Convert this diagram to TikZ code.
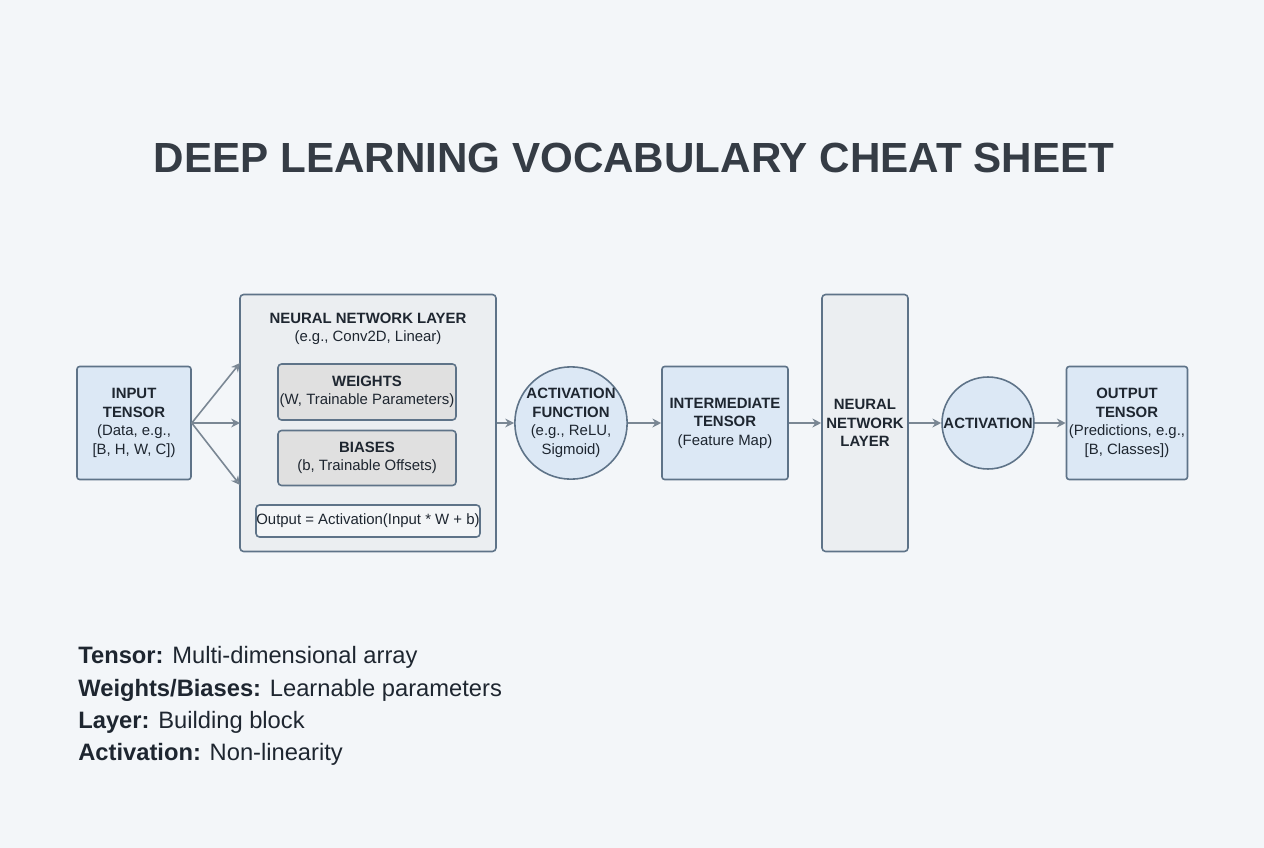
\documentclass[tikz,border=0pt]{standalone}
\usepackage{fontspec}
\setmainfont{Liberation Sans}
\usetikzlibrary{arrows.meta}
\definecolor{bgc}{HTML}{F3F6F9}
\definecolor{bluefill}{HTML}{DCE8F5}
\definecolor{grayfill}{HTML}{EBEEF1}
\definecolor{edgec}{HTML}{5E7388}
\definecolor{textc}{HTML}{1E2630}
\definecolor{arrowc}{HTML}{7A8794}
\tikzset{
  bluebox/.style={draw=edgec, fill=bluefill, line width=0.9pt, rounded corners=1.5pt, align=center, font=\fontsize{8.5}{10.5}\selectfont, text=textc, inner sep=0pt},
  graybox/.style={draw=edgec, fill=grayfill, line width=0.9pt, rounded corners=2pt, align=center, font=\fontsize{8.5}{10.5}\selectfont, text=textc, inner sep=0pt},
  actcircle/.style={circle, draw=edgec, fill=bluefill, line width=0.9pt, align=center, font=\fontsize{8.5}{10.5}\selectfont, text=textc, inner sep=0pt, minimum size=1.84cm},
  flow/.style={-{Stealth[length=5pt,width=5pt,open]}, draw=arrowc, line width=0.9pt},
  legend/.style={anchor=west, font=\fontsize{13.5}{16}\selectfont, text=textc, inner sep=0pt}
}
\begin{document}
\begin{tikzpicture}[x=0.02cm, y=-0.02cm]
\fill[bgc] (0,0) rectangle (1264,848);
\useasboundingbox (0,0) rectangle (1264,848);
% title
\node (title) at (634,158) [font=\fontsize{24}{28}\selectfont\bfseries, text=textc!90] {DEEP LEARNING VOCABULARY CHEAT SHEET};
% main flow
\node (input) at (134,423) [bluebox, minimum width=2.28cm, minimum height=2.26cm] {\textbf{INPUT}\\\textbf{TENSOR}\\(Data, e.g.,\\{[B, H, W, C])}};
\node (layer) at (368,423) [graybox, minimum width=5.12cm, minimum height=5.14cm] {};
\node (layertitle) at (368,329) [align=center, font=\fontsize{8.5}{10.5}\selectfont, text=textc] {\textbf{NEURAL NETWORK LAYER}\\(e.g., Conv2D, Linear)};
\node (weights) at (367,392) [graybox, fill=black!12, minimum width=3.56cm, minimum height=1.12cm] {\textbf{WEIGHTS}\\(W, Trainable Parameters)};
\node (biases) at (367,458) [graybox, fill=black!12, minimum width=3.56cm, minimum height=1.1cm] {\textbf{BIASES}\\(b, Trainable Offsets)};
\node (formula) at (368,521) [graybox, fill=grayfill!60, minimum width=4.48cm, minimum height=0.64cm] {Output = Activation(Input * W + b)};
\node (act1) at (571,423) [actcircle] {\textbf{ACTIVATION}\\\textbf{FUNCTION}\\(e.g., ReLU,\\Sigmoid)};
\node (inter) at (725,423) [bluebox, minimum width=2.52cm, minimum height=2.26cm] {\textbf{INTERMEDIATE}\\\textbf{TENSOR}\\(Feature Map)};
\node (layer2) at (865,423) [graybox, minimum width=1.72cm, minimum height=5.14cm] {\textbf{NEURAL}\\\textbf{NETWORK}\\\textbf{LAYER}};
\node (act2) at (988,423) [actcircle] {\textbf{ACTIVATION}};
\node (output) at (1127,423) [bluebox, minimum width=2.42cm, minimum height=2.26cm] {\textbf{OUTPUT}\\\textbf{TENSOR}\\(Predictions, e.g.,\\{[B, Classes])}};
% connectors
\coordinate (fanA) at (240,363);
\coordinate (fanB) at (240,423);
\coordinate (fanC) at (240,485);
\foreach \t in {fanA,fanB,fanC}
  \draw[flow] (input.east) -- (\t);
\draw[flow] (layer.east) -- (act1.west);
\draw[flow] (act1.east) -- (inter.west);
\draw[flow] (inter.east) -- (layer2.west);
\draw[flow] (layer2.east) -- (act2.west);
\draw[flow] (act2.east) -- (output.west);
% legend
\node (lg1) at (78,657) [legend] {\textbf{Tensor:} Multi-dimensional array};
\node (lg2) at (78,690) [legend] {\textbf{Weights/Biases:} Learnable parameters};
\node (lg3) at (78,722) [legend] {\textbf{Layer:} Building block};
\node (lg4) at (78,754) [legend] {\textbf{Activation:} Non-linearity};
\end{tikzpicture}
\end{document}
